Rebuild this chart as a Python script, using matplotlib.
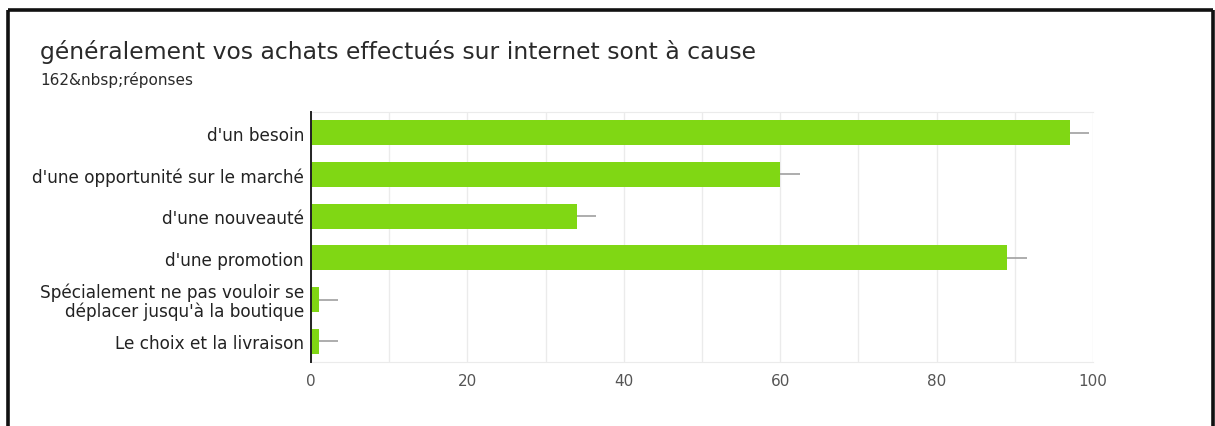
import matplotlib
matplotlib.use("Agg")
import matplotlib.pyplot as plt
from matplotlib.lines import Line2D

# Survey data
categories = [
    "d'un besoin",
    "d'une opportunité sur le marché",
    "d'une nouveauté",
    "d'une promotion",
    "Spécialement ne pas vouloir se\ndéplacer jusqu'à la boutique",
    "Le choix et la livraison",
]
counts = [97, 60, 34, 89, 1, 1]
whisker = [2.5, 2.5, 2.5, 2.5, 2.5, 2.5]
x_ticks = [0, 20, 40, 60, 80, 100]
title = "généralement vos achats effectués sur internet sont à cause"
subtitle = "162&nbsp;réponses"

W, H, DPI = 1215, 427, 100
fig = plt.figure(figsize=(W / DPI, H / DPI), dpi=DPI)
fig.patch.set_facecolor("white")

# Outer frame (top, left, right edges)
frame_kw = dict(color="#111111", linewidth=2.6, solid_capstyle="butt")
fig.add_artist(Line2D([8 / W, 1213 / W], [1 - 11 / H, 1 - 11 / H], transform=fig.transFigure, **frame_kw))
fig.add_artist(Line2D([8 / W, 8 / W], [0, 1 - 11 / H], transform=fig.transFigure, **frame_kw))
fig.add_artist(Line2D([1213 / W, 1213 / W], [0, 1 - 11 / H], transform=fig.transFigure, **frame_kw))

fig.text(40 / W, 1 - 59 / H, title, fontsize=16.9, family="DejaVu Sans", color="#2a2a2a",
         va="baseline", ha="left")
fig.text(40 / W, 1 - 85 / H, subtitle, fontsize=11, family="DejaVu Sans", color="#2a2a2a",
         va="baseline", ha="left")

left, right, top, bottom = 311, 1093, 113, 363
ax = fig.add_axes([left / W, 1 - bottom / H, (right - left) / W, (bottom - top) / H])

y = list(range(len(categories)))
ax.barh(y, counts, height=0.6, color="#80d714", zorder=3)
ax.errorbar(counts, y, xerr=[[0] * len(counts), whisker], fmt="none",
            ecolor="#a0a0a0", elinewidth=1.2, capsize=0, zorder=2)

ax.set_xlim(0, 100)
ax.set_ylim(len(categories) - 0.5, -0.5)
ax.set_xticks(x_ticks)
ax.set_xticks(range(0, 101, 10), minor=True)
ax.grid(axis="x", which="both", color="#ebebeb", linewidth=1, zorder=0)
ax.set_yticks(y)
ax.set_yticklabels(categories, fontsize=12.2, family="DejaVu Sans", color="#222222",
                   linespacing=1.0)
ax.tick_params(axis="y", length=0, pad=5)
ax.tick_params(axis="x", which="both", length=0, pad=8, labelsize=11, labelcolor="#555555")

ax.spines["right"].set_visible(False)
ax.spines["top"].set_color("#ebebeb")
ax.spines["bottom"].set_color("#ebebeb")
ax.spines["left"].set_color("#222222")
ax.spines["left"].set_linewidth(1.4)
ax.spines["left"].set_zorder(4)

fig.savefig("out.png", dpi=DPI, facecolor="white")
